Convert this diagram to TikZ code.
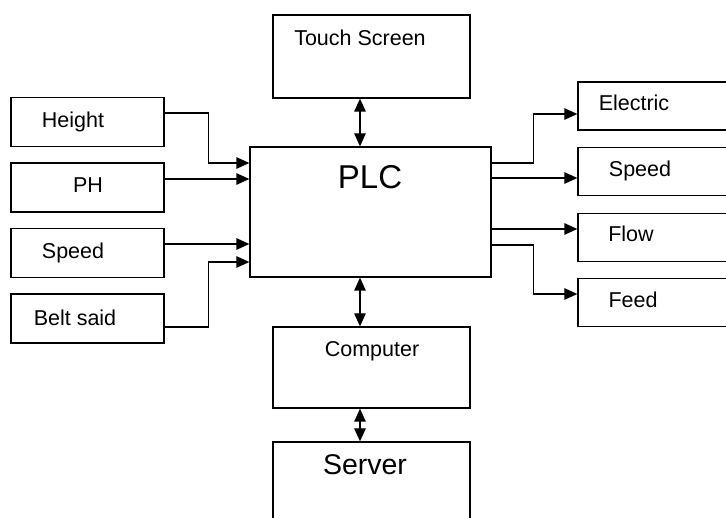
\documentclass[tikz,border=0pt]{standalone}
\usepackage{fontspec}
\setmainfont{Liberation Sans}
\usetikzlibrary{arrows.meta}
\tikzset{
    block/.style={draw, line width=1.3pt, inner sep=0pt},
    inbox/.style={block, minimum width=153pt, minimum height=49pt},
    outbox/.style={block, minimum width=170pt, minimum height=48pt},
    midbox/.style={block, minimum width=197pt},
    tag/.style={anchor=base, font=\fontsize{21.5}{24}\selectfont},
    wire/.style={line width=1.3pt, -{Triangle[length=13pt,width=11.5pt]}},
    link/.style={line width=1.3pt, {Triangle[length=13pt,width=11.5pt]}-{Triangle[length=13pt,width=11.5pt]}}
}
\begin{document}
\begin{tikzpicture}[x=1pt, y=-1pt]
        \clip (0,0) rectangle (726,518);
        % blocks
        \node[midbox, minimum height=83pt] (touch) at (371.5,56.5) {};
        \node[block, minimum width=241pt, minimum height=130pt] (plc) at (370.5,212) {};
        \node[midbox, minimum height=81pt] (computer) at (371.5,367.5) {};
        \node[midbox, minimum height=88pt] (server) at (371.5,486) {};
        \node[inbox] (height) at (87.5,122) {};      % inputs
        \node[inbox] (ph) at (87.5,187.5) {};
        \node[inbox] (speedin) at (87.5,253) {};
        \node[inbox] (belt) at (87.5,318.5) {};
        \node[outbox] (electric) at (663,106) {};    % outputs
        \node[outbox] (speedout) at (663,171.5) {};
        \node[outbox] (flow) at (663,237.5) {};
        \node[outbox] (feed) at (663,302.5) {};
        % labels
        \node[tag] (touchtext) at (360,45.5) {Touch Screen};
        \node[tag, font=\fontsize{33}{36}\selectfont] (plctext) at (370,189) {PLC};
        \node[tag] (computertext) at (372,357) {Computer};
        \node[tag, font=\fontsize{28.5}{32}\selectfont] (servertext) at (365,475) {Server};
        \node[tag] (heighttext) at (73,128) {Height};
        \node[tag] (phtext) at (88,193) {PH};
        \node[tag] (speedintext) at (73,259) {Speed};
        \node[tag] (belttext) at (75,326) {Belt said};
        \node[tag] (electrictext) at (634,111) {Electric};
        \node[tag] (speedouttext) at (640,177) {Speed};
        \node[tag] (flowtext) at (631,242) {Flow};
        \node[tag] (feedtext) at (633,308) {Feed};
        % inputs to plc
        \draw[wire] (height.east |- 0,113) -- ++(44,0) |- (plc.west |- 0,163);
        \draw[wire] (ph.east |- 0,179) -- (plc.west |- 0,179);
        \draw[wire] (speedin.east |- 0,244) -- (plc.west |- 0,244);
        \draw[wire] (belt.east |- 0,327) -- ++(44,0) |- (plc.west |- 0,262);
        % plc to outputs
        \draw[wire] (plc.east |- 0,163) -- ++(42,0) |- (electric.west |- 0,114);
        \draw[wire] (plc.east |- 0,178) -- (speedout.west |- 0,178);
        \draw[wire] (plc.east |- 0,229) -- (flow.west |- 0,229);
        \draw[wire] (plc.east |- 0,245) -- ++(42,0) |- (feed.west |- 0,294);
        % vertical links
        \draw[link] (touch.south -| 360,0) -- (plc.north -| 360,0);
        \draw[link] (plc.south -| 360,0) -- (computer.north -| 360,0);
        \draw[link] (computer.south -| 360,0) -- (server.north -| 360,0);
\end{tikzpicture}
\end{document}
